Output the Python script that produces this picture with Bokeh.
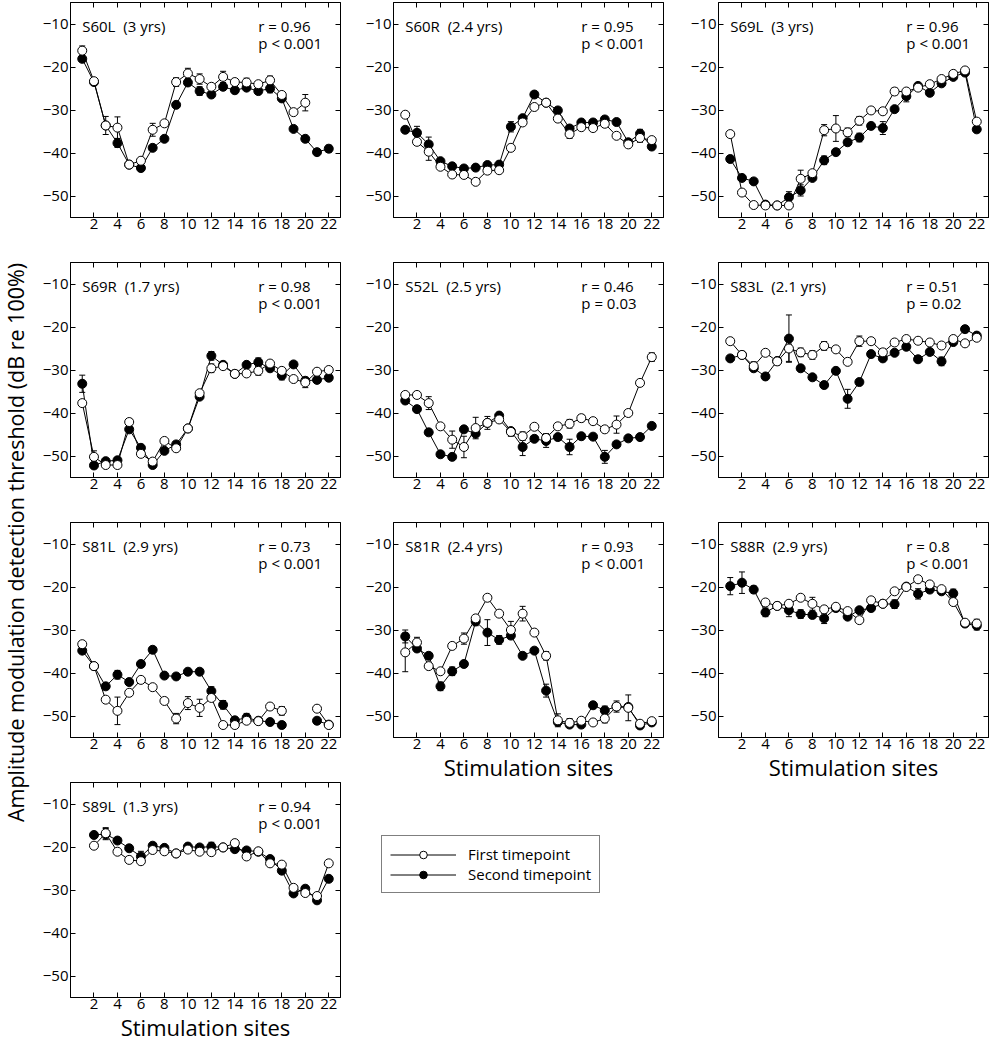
import numpy as np
from bokeh.plotting import figure
from bokeh.layouts import row, column
from bokeh.models import (Range1d, FixedTicker, LinearAxis, Label, Whisker, TeeHead,
                          ColumnDataSource, Legend, LegendItem)
from bokeh.embed import file_html
from bokeh.resources import INLINE

NaN = float("nan")

# ---------------- data ----------------
sites = list(range(1, 23))
x_ticks = [2, 4, 6, 8, 10, 12, 14, 16, 18, 20, 22]
y_ticks = [-50, -40, -30, -20, -10]
y_tick_labels = ["\u221250", "\u221240", "\u221230", "\u221220", "\u221210"]

panel_names = ["S60L", "S60R", "S69L", "S69R", "S52L", "S83L", "S81L", "S81R", "S88R", "S89L"]
panel_years = ["3 yrs", "2.4 yrs", "3 yrs", "1.7 yrs", "2.5 yrs", "2.1 yrs", "2.9 yrs", "2.4 yrs", "2.9 yrs", "1.3 yrs"]
r_values = ["0.96", "0.95", "0.96", "0.98", "0.46", "0.51", "0.73", "0.93", "0.8", "0.94"]
p_values = ["p < 0.001", "p < 0.001", "p < 0.001", "p < 0.001", "p = 0.03", "p = 0.02",
            "p < 0.001", "p < 0.001", "p < 0.001", "p < 0.001"]

S60L_first = [-16.2, -23.3, -33.6, -34.1, -42.7, -41.8, -34.6, -33.1, -23.5, -21.5, -22.8, -24.6, -22.3, -23.5, -23.6, -24.0, -23.1, -26.5, -30.5, -28.3, NaN, NaN]
S60L_second = [-18.1, -23.5, -33.6, -37.7, -42.7, -43.5, -38.8, -36.7, -28.8, -23.6, -25.6, -26.4, -24.6, -25.4, -24.8, -25.6, -25.0, -27.3, -34.4, -36.7, -39.8, -39.0]
S60L_err1 = [1.1, 0, 2.1, 2.5, 0, 0, 1.5, 0, 1.0, 1.2, 1.2, 0, 1.3, 0, 1.0, 0, 1.0, 0, 0, 1.9, 0, 0]
S60L_err2 = [0, 0, 0, 1.0, 0, 0, 0, 0, 0, 0, 1.0, 0, 0, 0, 0, 0, 1.0, 0, 0, 0, 0, 0.8]

S60R_first = [-31.1, -37.4, -39.7, -43.2, -45.0, -45.1, -46.7, -44.1, -44.0, -38.8, -32.9, -29.3, -28.3, -32.0, -35.6, -34.0, -34.2, -33.2, -36.0, -38.0, -36.5, -37.0]
S60R_second = [-34.6, -35.3, -38.0, -41.9, -43.1, -43.6, -43.4, -42.8, -42.7, -33.9, -31.9, -26.4, -28.3, -30.1, -34.3, -32.9, -32.9, -32.2, -32.8, -37.5, -35.5, -38.5]
S60R_err1 = [0, 0, 2.0, 0, 0, 0, 0, 0, 0, 0, 0, 0, 0, 0, 1.0, 0, 0, 0, 0, 0, 1.0, 0]
S60R_err2 = [0, 1.5, 1.7, 0, 0, 0, 0.7, 0, 0, 1.2, 0, 0, 0, 0, 0, 0, 0, 0, 0, 0, 1.0, 0]

S69L_first = [-35.6, -49.2, -52.1, -52.2, -52.2, -52.2, -46.0, -44.7, -34.7, -34.3, -35.2, -32.5, -30.1, -30.3, -25.7, -25.7, -24.8, -24.0, -22.8, -21.6, -20.8, -32.7]
S69L_second = [-41.4, -45.8, -46.6, -52.0, -52.2, -50.3, -48.7, -45.8, -41.7, -39.8, -37.5, -36.4, -33.7, -34.2, -29.8, -26.8, -24.4, -26.0, -23.8, -22.3, -21.3, -34.5]
S69L_err1 = [0, 0, 0, 0, 0, 0, 2.0, 0, 1.3, 3.0, 1.0, 1.0, 0, 0, 0.8, 0, 0, 0, 0, 0, 0, 0]
S69L_err2 = [0, 0, 0, 0, 0, 1.3, 1.3, 0, 1.0, 0, 0, 1.0, 0, 1.5, 0, 1.3, 0, 0, 0, 0, 0, 0]

S69R_first = [-37.7, -50.2, -52.1, -52.1, -42.1, -49.5, -51.3, -46.5, -48.2, -43.6, -35.4, -29.6, -29.1, -30.9, -30.8, -30.2, -28.5, -30.2, -32.1, -32.9, -30.4, -30.0]
S69R_second = [-33.2, -52.2, -51.2, -51.0, -43.8, -48.1, -52.1, -48.8, -47.3, -43.6, -36.2, -26.7, -28.8, -30.9, -28.8, -28.2, -29.6, -31.3, -28.7, -32.5, -32.3, -31.8]
S69R_err1 = [0, 1.4, 0, 0, 0.8, 0, 0, 0, 0, 0, 0, 1.0, 0, 0, 0, 1.0, 0, 0, 0, 1.2, 0, 0]
S69R_err2 = [2.0, 0, 0, 0, 0, 0, 0, 0, 0, 0, 0, 1.0, 0, 0, 0, 1.0, 0, 1.0, 0, 0, 0, 0]

S52L_first = [-35.8, -35.8, -37.7, -43.1, -46.2, -47.9, -43.5, -42.3, -41.5, -44.4, -45.4, -43.2, -45.8, -43.1, -42.5, -41.2, -41.9, -43.8, -42.7, -40.0, -33.0, -27.0]
S52L_second = [-37.1, -39.1, -44.5, -49.6, -50.2, -43.8, -44.8, -42.3, -40.6, -44.2, -47.9, -46.0, -46.5, -45.6, -47.9, -45.4, -45.5, -50.2, -47.3, -45.9, -45.6, -43.0]
S52L_err1 = [0, 0.8, 1.5, 0, 2.0, 2.5, 2.5, 1.5, 0, 1.0, 1.0, 0, 1.0, 0, 1.0, 0.8, 0, 0, 2.0, 0, 0, 1.0]
S52L_err2 = [0, 0, 0, 0, 0, 0, 0, 0, 0, 0, 2.0, 0, 1.5, 0, 1.8, 0, 0, 1.5, 0, 0, 0, 0]

S83L_first = [-23.3, -26.5, -29.1, -26.0, -28.0, -25.0, -25.9, -26.5, -24.4, -25.2, -28.1, -23.3, -23.3, -25.9, -23.6, -22.8, -23.2, -23.6, -24.3, -22.8, -23.8, -22.5]
S83L_second = [-27.3, -26.5, -29.6, -31.5, -27.9, -22.7, -29.6, -31.7, -33.5, -30.2, -36.7, -32.8, -26.3, -27.3, -26.0, -24.6, -27.5, -25.8, -28.0, -23.5, -20.5, -22.0]
S83L_err1 = [0, 0, 1.0, 0, 0.8, 3.0, 1.0, 1.0, 1.0, 0, 0, 1.2, 0, 0.8, 0, 0, 0, 0, 0, 0, 0, 0]
S83L_err2 = [0, 0, 0, 0, 0, 5.5, 0, 0, 0, 0, 2.2, 0, 0, 0, 0, 0, 0, 0, 1.0, 0, 0.8, 0]

S81L_first = [-33.3, -38.4, -46.2, -48.8, -44.6, -41.6, -43.3, -46.5, -50.6, -47.0, -48.1, -45.8, -52.1, -52.1, -51.1, -51.2, -47.8, -48.8, NaN, NaN, -48.3, -52.1]
S81L_second = [-34.8, -38.4, -43.1, -40.4, -42.1, -37.9, -34.6, -40.6, -40.8, -39.7, -39.7, -44.2, -47.4, -51.0, -50.4, -51.1, -51.4, -52.1, NaN, NaN, -51.1, -52.0]
S81L_err1 = [0, 0, 0, 3.2, 0, 0, 0, 0.8, 1.2, 1.5, 2.0, 0, 0, 0, 0, 0, 0, 1.0, 0, 0, 0, 0]
S81L_err2 = [0, 0, 0, 1.0, 0, 0, 0, 0, 0, 0, 0, 1.0, 1.0, 0, 1.0, 0, 0, 0, 0, 0, 0, 0]

S81R_first = [-35.2, -32.9, -38.4, -39.6, -33.7, -32.0, -27.3, -22.5, -26.2, -30.0, -26.2, -30.6, -36.0, -51.0, -51.6, -51.1, -51.5, -50.6, -47.8, -48.1, -51.8, -51.2]
S81R_second = [-31.5, -34.3, -36.0, -43.1, -39.6, -37.9, -28.0, -30.6, -32.3, -31.3, -36.0, -34.8, -44.1, -51.4, -52.0, -52.0, -47.5, -48.7, -47.8, -47.9, -52.2, -51.5]
S81R_err1 = [4.5, 1.2, 0, 0, 0, 1.3, 0, 0, 0, 2.0, 1.7, 0, 1.0, 1.5, 1.0, 0, 0, 1.0, 1.3, 3.0, 0, 0]
S81R_err2 = [1.5, 0, 0, 1.0, 1.0, 0, 1.0, 3.0, 1.0, 0, 0, 0, 1.5, 0, 0, 0, 0, 1.0, 0, 0, 0, 0]

S88R_first = [NaN, NaN, NaN, -23.6, -24.4, -23.9, -22.5, -23.9, -25.2, -24.6, -25.6, -27.7, -23.1, -23.9, -21.0, -20.0, -18.2, -19.4, -20.5, -23.5, -28.3, -28.5]
S88R_second = [-19.8, -19.0, -20.6, -25.9, -24.4, -25.4, -26.3, -26.5, -27.3, -24.9, -26.9, -25.4, -24.9, -23.9, -24.0, -19.9, -21.6, -20.6, -21.0, -21.5, -28.5, -29.0]
S88R_err1 = [0, 0, 0, 0, 0, 0, 0, 1.5, 0, 0, 0, 0, 0, 0, 0, 0, 0, 0, 0, 0, 0, 1.0]
S88R_err2 = [2.0, 2.5, 0.8, 1.0, 0, 1.5, 1.0, 0, 1.2, 0, 0, 0, 0, 0, 1.0, 0, 1.2, 0, 0, 1.0, 0, 1.0]

S89L_first = [NaN, -19.7, -16.8, -21.1, -23.0, -23.3, -20.7, -21.0, -21.5, -20.6, -21.1, -21.2, -20.1, -19.1, -22.2, -21.0, -23.8, -24.1, -29.5, -30.7, -31.4, -23.8]
S89L_second = [NaN, -17.2, -17.0, -18.5, -20.3, -22.2, -19.7, -20.2, -21.5, -19.9, -20.1, -19.9, -20.1, -20.5, -20.8, -21.1, -22.8, -25.5, -30.8, -29.7, -32.4, -27.4]
S89L_err1 = [0, 0, 1.3, 0, 0, 0, 0, 0, 0, 0, 0, 0, 0, 0, 0, 0, 0, 0, 0, 0, 0, 0]
S89L_err2 = [0, 0, 1.3, 0, 0, 1.2, 0, 0, 0, 0, 0, 1.0, 0, 0, 0, 0, 0, 0, 0, 0, 0, 0]

first_series = [S60L_first, S60R_first, S69L_first, S69R_first, S52L_first,
                S83L_first, S81L_first, S81R_first, S88R_first, S89L_first]
second_series = [S60L_second, S60R_second, S69L_second, S69R_second, S52L_second,
                 S83L_second, S81L_second, S81R_second, S88R_second, S89L_second]
first_errors = [S60L_err1, S60R_err1, S69L_err1, S69R_err1, S52L_err1,
                S83L_err1, S81L_err1, S81R_err1, S88R_err1, S89L_err1]
second_errors = [S60L_err2, S60R_err2, S69L_err2, S69R_err2, S52L_err2,
                 S83L_err2, S81L_err2, S81R_err2, S88R_err2, S89L_err2]

legend_labels = ["First timepoint", "Second timepoint"]
x_axis_title = "Stimulation sites"
y_axis_title = "Amplitude modulation detection threshold (dB re 100%)"

# ---------------- layout / style ----------------
FONT = "Open Sans"
FRAME_W = 270
FRAME_H = 215
COL_BORDERS = [(40, 12), (41, 12), (43, 1)]          # left, right
PANEL_TB = {0: (2, 41), 1: (2, 41), 2: (2, 41),
            3: (4, 41), 4: (4, 41), 5: (4, 41),
            6: (4, 23), 7: (4, 52), 8: (4, 52),
            9: (22, 52)}
XLABEL_PANELS = {7, 8, 9}
TOTAL_H = 1049


def style_main_axis(ax, ticks, overrides=None):
    ax.ticker = FixedTicker(ticks=ticks)
    ax.major_tick_in = 5
    ax.major_tick_out = 0
    ax.minor_tick_line_color = None
    ax.axis_line_color = "black"
    ax.major_tick_line_color = "black"
    ax.major_label_text_font = FONT
    ax.major_label_text_font_size = "15px"
    ax.major_label_text_color = "black"
    if overrides:
        ax.major_label_overrides = overrides


def tick_only_axis(ticks):
    return LinearAxis(ticker=FixedTicker(ticks=ticks), major_tick_in=5, major_tick_out=0,
                      minor_tick_line_color=None, major_label_text_font_size="0px",
                      major_label_standoff=0, major_label_overrides={t: "" for t in ticks},
                      axis_line_color="black", major_tick_line_color="black")


def whisker_for(vals, errs):
    base, lo, hi = [], [], []
    for s, v, e in zip(sites, vals, errs):
        if e > 0 and not np.isnan(v):
            base.append(s)
            lo.append(v - e)
            hi.append(v + e)
    src = ColumnDataSource(dict(base=base, lower=lo, upper=hi))
    return Whisker(source=src, base="base", lower="lower", upper="upper", dimension="height",
                   line_color="black", line_width=1,
                   upper_head=TeeHead(size=6, line_color="black", line_width=1),
                   lower_head=TeeHead(size=6, line_color="black", line_width=1))


def make_panel(i):
    c_i = i % 3
    left, right = COL_BORDERS[c_i]
    top, bottom = PANEL_TB[i]
    p = figure(width=left + FRAME_W + right, height=top + FRAME_H + bottom,
               x_range=Range1d(0, 23), y_range=Range1d(-55, -5),
               output_backend="svg", toolbar_location=None,
               min_border_left=left, min_border_right=right,
               min_border_top=top, min_border_bottom=bottom,
               background_fill_color="white", border_fill_color="white",
               outline_line_color="black")
    p.grid.visible = False
    xax = p.xaxis[0]
    yax = p.yaxis[0]
    style_main_axis(xax, x_ticks)
    xax.major_label_standoff = 1
    style_main_axis(yax, y_ticks, dict(zip(y_ticks, y_tick_labels)))
    yax.major_label_standoff = 2
    if i in XLABEL_PANELS:
        xax.axis_label = x_axis_title
        xax.axis_label_text_font = FONT
        xax.axis_label_text_font_size = "22px"
        xax.axis_label_text_font_style = "normal"
        xax.axis_label_text_color = "black"
        xax.axis_label_standoff = 0
    p.add_layout(tick_only_axis(x_ticks), "above")
    p.add_layout(tick_only_axis(y_ticks), "right")

    src = ColumnDataSource(dict(site=sites,
                                first=np.array(first_series[i], dtype=float),
                                second=np.array(second_series[i], dtype=float)))
    p.add_layout(whisker_for(second_series[i], second_errors[i]))
    p.add_layout(whisker_for(first_series[i], first_errors[i]))
    p.line("site", "second", source=src, line_color="black", line_width=1)
    p.line("site", "first", source=src, line_color="black", line_width=1)
    p.scatter("site", "second", source=src, marker="circle", size=9,
              fill_color="black", line_color="black", line_width=1)
    p.scatter("site", "first", source=src, marker="circle", size=9,
              fill_color="white", line_color="black", line_width=1)

    txt = dict(text_font=FONT, text_font_size="15px", text_color="black",
               text_baseline="middle", text_align="left", y_units="screen")
    p.add_layout(Label(x=1, y=FRAME_H - 23,
                       text=f"{panel_names[i]}\u00a0 ({panel_years[i]})", **txt))
    p.add_layout(Label(x=16, y=FRAME_H - 23, text=f"r = {r_values[i]}", **txt))
    p.add_layout(Label(x=16, y=FRAME_H - 40, text=p_values[i], **txt))
    return p


panels = [make_panel(i) for i in range(10)]

# y-axis title strip
ylab = figure(width=30, height=TOTAL_H, x_range=Range1d(0, 1), y_range=Range1d(0, 1),
              x_axis_type=None, y_axis_type=None, min_border=0, outline_line_color=None,
              output_backend="svg", toolbar_location=None)
ylab.add_layout(Label(x=15, y=TOTAL_H - 542, x_units="screen", y_units="screen",
                      text=y_axis_title, angle=np.pi / 2, text_font=FONT,
                      text_font_size="21.5px", text_color="black",
                      text_align="center", text_baseline="middle"))

# legend slot (below S81R)
leg_h = TOTAL_H - 258 - 260 - (PANEL_TB[7][0] + FRAME_H + PANEL_TB[7][1])
leg_w = COL_BORDERS[1][0] + FRAME_W + COL_BORDERS[1][1]
leg = figure(width=leg_w, height=leg_h,
             x_range=Range1d(0, 1), y_range=Range1d(0, 1),
             x_axis_type=None, y_axis_type=None,
             min_border_left=29, min_border_right=leg_w - 29 - 250,
             min_border_top=0, min_border_bottom=0,
             outline_line_color=None, output_backend="svg", toolbar_location=None)
dummy1 = ColumnDataSource(dict(x=[NaN], y=[NaN]))
dummy2 = ColumnDataSource(dict(x=[NaN], y=[NaN]))
l1 = leg.line("x", "y", source=dummy1, line_color="black", line_width=1)
m1 = leg.scatter("x", "y", source=dummy1, marker="circle", size=8,
                 fill_color="white", line_color="black", line_width=1)
l2 = leg.line("x", "y", source=dummy2, line_color="black", line_width=1)
m2 = leg.scatter("x", "y", source=dummy2, marker="circle", size=8,
                 fill_color="black", line_color="black", line_width=1)
legend = Legend(items=[LegendItem(label=legend_labels[0], renderers=[l1, m1]),
                       LegendItem(label=legend_labels[1], renderers=[l2, m2])],
                location=(0, TOTAL_H - 893), glyph_width=66, glyph_height=19, label_height=19,
                label_standoff=12, spacing=0, padding=8, margin=0,
                label_text_font=FONT, label_text_font_size="15px", label_text_color="black",
                border_line_color="black", border_line_width=1, background_fill_color="white")
leg.add_layout(legend)

col1 = column(panels[0], panels[3], panels[6], panels[9])
col2 = column(panels[1], panels[4], panels[7], row(leg))
col3 = column(panels[2], panels[5], panels[8])
layout = row(ylab, col1, col2, col3)

open("out.html", "w").write(file_html(layout, INLINE))
